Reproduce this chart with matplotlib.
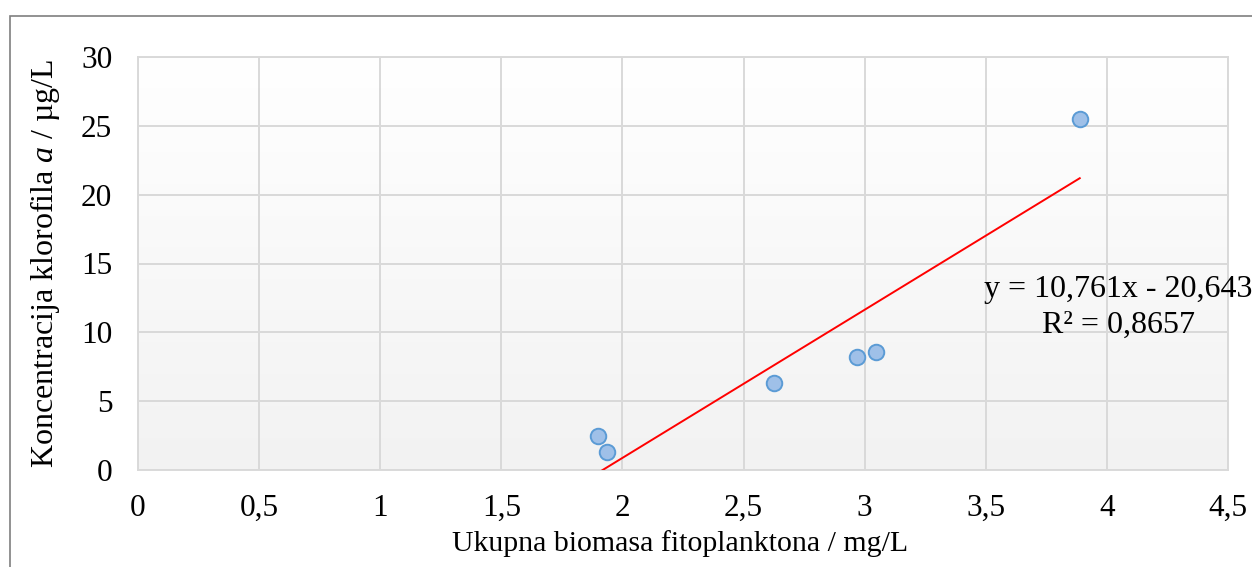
import numpy as np
import matplotlib
matplotlib.use("Agg")
import matplotlib.pyplot as plt
from matplotlib.patches import Rectangle

# data
biomasa = [1.90, 1.935, 2.625, 2.97, 3.045, 3.888]      # mg/L
klorofil = [2.47, 1.31, 6.32, 8.21, 8.57, 25.49]         # ug/L
slope, intercept, r2 = 10.761, -20.643, 0.8657
x_ticks = [0, 0.5, 1, 1.5, 2, 2.5, 3, 3.5, 4, 4.5]
y_ticks = [0, 5, 10, 15, 20, 25, 30]

plt.rcParams["font.family"] = ["Liberation Serif", "DejaVu Serif"]
plt.rcParams["mathtext.fontset"] = "custom"
plt.rcParams["mathtext.it"] = "Liberation Serif:italic"
plt.rcParams["mathtext.rm"] = "Liberation Serif"

W, H = 1252, 567
fig = plt.figure(figsize=(W / 100, H / 100), dpi=100)
fig.patch.set_facecolor("white")

# outer chart border (only left and top visible in the crop)
fig.add_artist(Rectangle((10 / W, -0.2), 2.0, (H - 16) / H + 0.2,
                         transform=fig.transFigure, fill=False,
                         ec="#7f7f7f", lw=1.2, clip_on=False))

ax = fig.add_axes([138 / W, (H - 470) / H, 1090 / W, 413 / H])
ax.set_xlim(0, 4.5); ax.set_ylim(0, 30)

# white -> light grey gradient of the plot area
grad = np.linspace(1.0, 0.0, 256).reshape(-1, 1)
ax.imshow(grad, extent=[0, 1, 0, 1], transform=ax.transAxes, aspect="auto",
          cmap=matplotlib.colors.LinearSegmentedColormap.from_list("g", ["#f2f2f2", "#ffffff"]),
          zorder=0)

ax.set_xticks(x_ticks); ax.set_yticks(y_ticks)
ax.set_xticklabels([f"{v:g}".replace(".", ",") for v in x_ticks])
ax.set_yticklabels([str(v) for v in y_ticks])
ax.tick_params(length=0, labelsize=22.5, colors="black")
ax.tick_params(axis="x", pad=17.5)
ax.tick_params(axis="y", pad=18.5)
ax.grid(True, color="#d9d9d9", lw=1.4, zorder=1)
for s in ax.spines.values():
    s.set_color("#d9d9d9"); s.set_linewidth(1.4)
ax.set_axisbelow(True)

# linear trendline over the data range
xs = np.array([min(biomasa), max(biomasa)])
ax.plot(xs, slope * xs + intercept, color="#ff0000", lw=1.4, zorder=3)

ax.scatter(biomasa, klorofil, s=125, c="#9fc0e8", edgecolors="#5b9bd5",
           linewidths=1.4, zorder=4)

eq = f"y = {slope:.3f}x - {-intercept:.3f}".replace(".", ",")
rr = f"R² = {r2:.4f}".replace(".", ",")
ax.text(4.047, 12.57, eq, ha="center", va="baseline", fontsize=23,
        clip_on=False, zorder=5)
ax.text(4.047, 9.95, rr, ha="center", va="baseline", fontsize=23,
        clip_on=False, zorder=5)

ax.set_xlabel("Ukupna biomasa fitoplanktona / mg/L", fontsize=21.5)
ax.set_ylabel(r"Koncentracija klorofila $\mathit{a}$ / µg/L", fontsize=23)
ax.xaxis.set_label_coords(0.497, -0.145)
ax.yaxis.set_label_coords(-0.0697, 0.5)

fig.savefig("out.png", dpi=100, facecolor="white")
